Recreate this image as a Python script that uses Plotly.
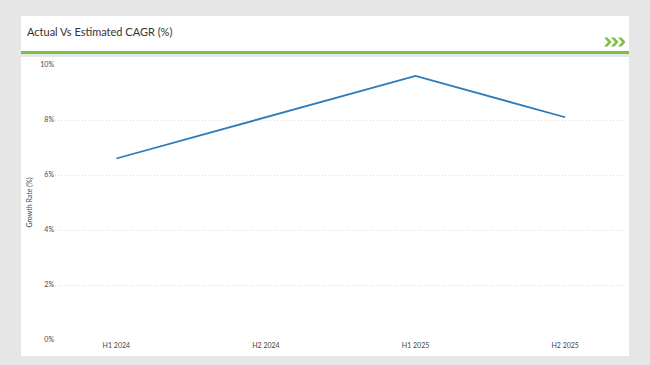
import plotly.graph_objects as go

categories = ["H1 2024", "H2 2024", "H1 2025", "H2 2025"]
growth = [6.6, 8.1, 9.6, 8.1]
y_ticks = [0, 2, 4, 6, 8, 10]
y_tick_labels = ["0%", "2%", "4%", "6%", "8%", "10%"]

W, H = 650, 365
L, R, T, B = 55, 25, 65, 25
pw, ph = W - L - R, H - T - B

def px(x):
    return (x - L) / pw

def py(y):
    return (H - B - y) / ph

fig = go.Figure()
fig.add_trace(go.Scatter(
    x=list(range(len(categories))), y=growth, mode="lines",
    line=dict(color="#2b7bba", width=1.8), hoverinfo="skip", showlegend=False,
))

shapes = [
    dict(type="rect", xref="paper", yref="paper", x0=px(21), x1=px(629), y0=py(51), y1=py(16),
         fillcolor="white", line=dict(width=0), layer="below"),
    dict(type="rect", xref="paper", yref="paper", x0=px(21), x1=px(629), y0=py(54), y1=py(51),
         fillcolor="#7dc142", line=dict(width=0), layer="below"),
    dict(type="rect", xref="paper", yref="paper", x0=px(21), x1=px(629), y0=py(356), y1=py(57),
         fillcolor="white", line=dict(width=0), layer="below"),
]

# header chevron icon
for x0 in (604, 611, 618):
    yt, ym, yb = 37.5, 42, 46.5
    pts = [(x0, yt), (x0 + 3.5, yt), (x0 + 7.5, ym), (x0 + 3.5, yb), (x0, yb), (x0 + 4, ym)]
    d = "M " + " L ".join(f"{px(a):.5f},{py(b):.5f}" for a, b in pts) + " Z"
    shapes.append(dict(type="path", xref="paper", yref="paper", path=d,
                       fillcolor="#7dc142", line=dict(width=0)))

fig.update_layout(
    width=W, height=H,
    margin=dict(l=L, r=R, t=T, b=B),
    paper_bgcolor="#e6e6e6",
    plot_bgcolor="rgba(0,0,0,0)",
    shapes=shapes,
    font=dict(family="Lato, sans-serif", color="#444444"),
    xaxis=dict(
        range=[-0.41, 3.4], tickmode="array", tickvals=list(range(len(categories))),
        ticktext=categories, showgrid=False, zeroline=False, showline=False,
        tickfont=dict(size=7, color="#444444"), ticks="", ticklen=0,
    ),
    yaxis=dict(
        range=[0, 10], tickmode="array", tickvals=y_ticks, ticktext=y_tick_labels,
        showgrid=True, gridcolor="#dcdcdc", griddash="1px,2px", gridwidth=1,
        zeroline=False, showline=False, tickfont=dict(size=7, color="#444444"),
        title=dict(text="Growth Rate (%)", font=dict(size=7, color="#444444"), standoff=6),
        ticks="", ticklen=0,
    ),
    annotations=[
        dict(text="Actual Vs Estimated CAGR (%)", xref="paper", yref="paper",
             x=px(25), y=py(32), xanchor="left", yanchor="middle", showarrow=False,
             font=dict(size=11, color="#333333")),
    ],
)

fig.write_html(
    "out.html",
    config={"displayModeBar": False},
    post_script="document.body.style.margin='0';document.body.style.padding='0';"
                "document.body.style.background='#e6e6e6';",
)
